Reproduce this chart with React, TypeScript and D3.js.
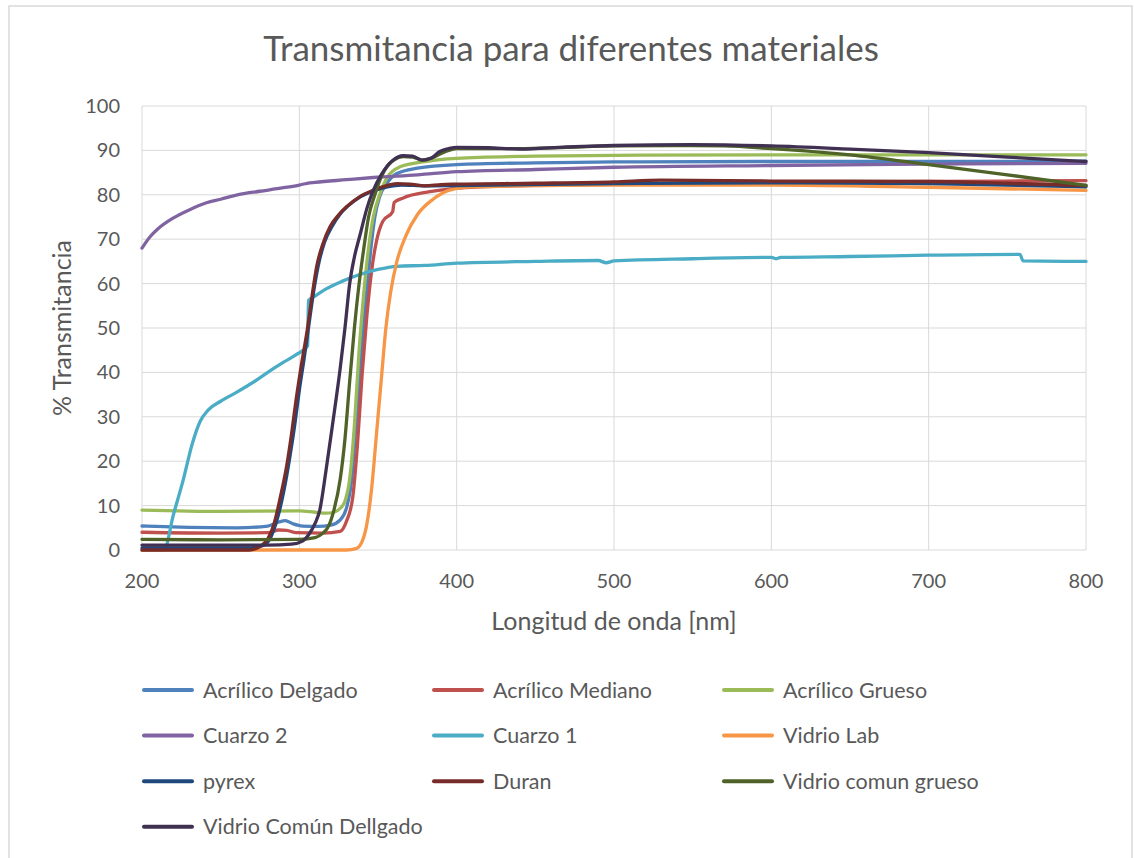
import * as d3 from "d3";

// wavelength [nm], transmittance [%] pairs
const acrilicoDelgado: [number, number][] = [
  [200, 5.4], [230, 5.1], [260, 5.0], [280, 5.4], [287, 6.3], [291, 6.6], [296, 5.9], [302, 5.4],
  [312, 5.3], [320, 5.6], [326, 6.8], [330, 9.5], [333, 15], [336, 28], [339.5, 45], [342.8, 58],
  [345.5, 68], [348, 75], [351, 79.5], [355.5, 82.5], [362, 84.8], [375, 86], [400, 86.8],
  [450, 87.2], [500, 87.4], [600, 87.5], [700, 87.5], [800, 87.6],
];
const acrilicoMediano: [number, number][] = [
  [200, 4.0], [250, 3.8], [280, 3.9], [287, 4.5], [292, 4.4], [298, 3.9], [315, 3.8], [326, 4.2],
  [330, 6.5], [334, 12], [337, 24], [340, 40], [343, 53], [346, 63], [349, 69.5], [353, 74],
  [359.3, 76.2], [360.3, 78.3], [366, 79.3], [383, 80.7], [415, 81.8], [500, 82.4], [600, 82.8],
  [700, 83], [800, 83.2],
];
const acrilicoGrueso: [number, number][] = [
  [200, 9.0], [250, 8.7], [300, 8.8], [310, 8.5], [317, 8.3], [322, 8.5], [326, 9.4], [329, 11],
  [332, 16], [335, 28], [338, 45], [341, 58], [344, 68], [347, 75], [351, 80], [356, 84],
  [364, 86.3], [380, 87.5], [400, 88.2], [450, 88.7], [500, 88.9], [600, 89], [700, 89], [800, 89],
];
const cuarzo2: [number, number][] = [
  [200, 68], [205, 70.5], [210, 72.3], [220, 74.8], [230, 76.6], [241, 78.2], [250, 79],
  [262, 80.1], [275, 80.8], [290, 81.6], [300, 82.2], [305, 82.6], [310, 82.8], [330, 83.4],
  [347, 83.9], [375, 84.5], [400, 85.2], [450, 85.7], [500, 86.2], [600, 86.6], [700, 86.9],
  [800, 87.1],
];
const cuarzo1: [number, number][] = [
  [200, 0], [214, 0], [220, 8], [226, 15.5], [232, 24], [237, 29], [242, 31.5], [250, 33.5],
  [260, 35.5], [273, 38.3], [282, 40.5], [290, 42.3], [298, 44], [305.3, 46], [305.8, 56.2],
  [310, 57.2], [317, 58.8], [327, 60.5], [338, 62], [350, 63.2], [362, 63.9], [380, 64.1],
  [400, 64.6], [450, 65], [490, 65.2], [495, 64.7], [500, 65.1], [550, 65.6], [600, 65.9],
  [603, 65.6], [606, 65.9], [650, 66.1], [700, 66.4], [758, 66.6], [760, 65.1], [800, 65],
];
const vidrioLab: [number, number][] = [
  [200, 0], [330, 0], [336, 0.3], [340, 2], [343, 6], [346, 14], [349, 26], [352, 38],
  [355, 50], [358, 58], [362, 65], [368, 71], [375, 75.5], [385, 79], [395, 81], [410, 81.8],
  [500, 82.2], [600, 82.2], [700, 81.7], [800, 81],
];
const pyrex: [number, number][] = [
  [200, 0.5], [270, 0.5], [277, 1], [282, 3], [286, 7], [290, 13], [294, 21], [297, 28],
  [300, 36], [303, 43], [306, 50.5], [309, 58], [312, 64], [316, 69.3], [321, 73], [326, 75.7],
  [331, 77.5], [339, 79.6], [348, 81], [356, 81.8], [365, 82.2], [380, 82], [400, 82.1],
  [500, 82.5], [600, 82.7], [700, 82.5], [800, 81.8],
];
const duran: [number, number][] = [
  [200, 0], [268, 0], [275, 0.8], [280, 2.5], [284, 6], [288, 12], [292, 19], [295, 26],
  [298, 34], [301, 41], [304.7, 48.8], [308, 57], [311, 63.8], [315, 69], [319.5, 72.8],
  [325, 75.5], [330, 77.3], [338, 79.5], [347, 81], [355, 82], [362, 82.5], [370, 82.4],
  [380, 82], [390, 82.3], [400, 82.4], [450, 82.6], [500, 82.9], [530, 83.3], [600, 83.1],
  [700, 83], [750, 82.6], [800, 82.1],
];
const vidrioComunGrueso: [number, number][] = [
  [200, 2.4], [250, 2.3], [300, 2.4], [310, 2.8], [315, 3.8], [318, 5], [322, 9], [326, 16],
  [329, 25], [332, 38], [335, 50], [338, 60], [341, 68], [344, 75], [348, 80], [352, 84],
  [356, 86.5], [360, 87.8], [366, 88.6], [372, 88.5], [378, 87.8], [384, 88.3], [392, 89.6],
  [400, 90.4], [420, 90.4], [440, 90.4], [470, 90.7], [500, 91], [540, 91.1], [570, 91],
  [600, 90.4], [650, 89], [700, 86.8], [750, 84.5], [800, 82.1],
];
const vidrioComunDelgado: [number, number][] = [
  [200, 1.1], [280, 1.1], [295, 1.3], [302, 2], [306, 3.5], [310, 6], [313, 9], [317, 18],
  [321, 28], [326, 41], [329, 50], [332, 60], [335, 66], [338.6, 71], [343, 77], [347, 81],
  [352, 84.5], [359.5, 87.8], [366, 88.8], [372, 88.7], [378, 87.8], [384, 88.3], [389, 89.7],
  [395, 90.4], [400, 90.7], [420, 90.6], [440, 90.3], [470, 90.8], [500, 91.1], [550, 91.3],
  [600, 91], [650, 90.3], [700, 89.5], [750, 88.5], [800, 87.5],
];

const seriesNames = [
  "Acrílico Delgado", "Acrílico Mediano", "Acrílico Grueso",
  "Cuarzo 2", "Cuarzo 1", "Vidrio Lab",
  "pyrex", "Duran", "Vidrio comun grueso",
  "Vidrio Común Dellgado",
];
const seriesData = [
  acrilicoDelgado, acrilicoMediano, acrilicoGrueso,
  cuarzo2, cuarzo1, vidrioLab,
  pyrex, duran, vidrioComunGrueso,
  vidrioComunDelgado,
];
const seriesColors = [
  "#4F81BD", "#C0504D", "#9BBB59",
  "#8064A2", "#4BACC6", "#F79646",
  "#1F497D", "#772C2A", "#4F6228",
  "#403152",
];

const xTicks = [200, 300, 400, 500, 600, 700, 800];
const yTicks = [0, 10, 20, 30, 40, 50, 60, 70, 80, 90, 100];

const W = 1134;
const H = 858;
const FONT = "Lato, 'Open Sans', sans-serif";
const TEXT = "#595959";
const GRID = "#D9D9D9";

export default function App() {
  const x = d3.scaleLinear().domain([200, 800]).range([142, 1086]);
  const y = d3.scaleLinear().domain([0, 100]).range([550, 106]);
  const line = d3
    .line<[number, number]>()
    .x((d) => x(d[0]))
    .y((d) => y(d[1]))
    .curve(d3.curveMonotoneX);

  // legend: 3 columns, 4 rows
  const legendX = [144, 434, 724];
  const legendY0 = 690;
  const legendDy = 45.6;

  return (
    <svg
      width={W}
      height={H}
      style={{ position: "absolute", left: 0, top: 0, background: "#fff" }}
      fontFamily={FONT}
    >
      <rect x={9} y={6} width={1123} height={870} fill="#fff" stroke={GRID} strokeWidth={1.5} />

      <text x={571} y={61} textAnchor="middle" fontSize={35} fill={TEXT}>
        Transmitancia para diferentes materiales
      </text>

      {/* grid */}
      {yTicks.map((t) => (
        <line key={"gy" + t} x1={x(200)} x2={x(800)} y1={y(t)} y2={y(t)} stroke={GRID} strokeWidth={1} />
      ))}
      {xTicks.map((t) => (
        <line key={"gx" + t} x1={x(t)} x2={x(t)} y1={y(0)} y2={y(100)} stroke={GRID} strokeWidth={1} />
      ))}

      {/* tick labels */}
      {yTicks.map((t) => (
        <text key={"ly" + t} x={120} y={y(t)} dy="0.35em" textAnchor="end" fontSize={20} fill={TEXT}>
          {t}
        </text>
      ))}
      {xTicks.map((t) => (
        <text key={"lx" + t} x={x(t)} y={581} dy="0.35em" textAnchor="middle" fontSize={20} fill={TEXT}>
          {t}
        </text>
      ))}

      <text x={614} y={621} dy="0.35em" textAnchor="middle" fontSize={25} fill={TEXT}>
        Longitud de onda [nm]
      </text>
      <text
        transform={`translate(62,${(y(0) + y(100)) / 2}) rotate(-90)`}
        dy="0.35em"
        textAnchor="middle"
        fontSize={25}
        fill={TEXT}
      >
        % Transmitancia
      </text>

      {/* series */}
      <g fill="none" strokeWidth={3.3} strokeLinejoin="round" strokeLinecap="round">
        {seriesData.map((s, i) => (
          <path key={seriesNames[i]} d={line(s) ?? ""} stroke={seriesColors[i]} />
        ))}
      </g>

      {/* legend */}
      {seriesNames.map((name, i) => {
        const lx = legendX[i % 3];
        const ly = legendY0 + Math.floor(i / 3) * legendDy;
        return (
          <g key={"lg" + name}>
            <line x1={lx} x2={lx + 48} y1={ly} y2={ly} stroke={seriesColors[i]} strokeWidth={4} strokeLinecap="round" />
            <text x={lx + 59} y={ly} dy="0.35em" fontSize={21.5} fill={TEXT}>
              {name}
            </text>
          </g>
        );
      })}
    </svg>
  );
}
